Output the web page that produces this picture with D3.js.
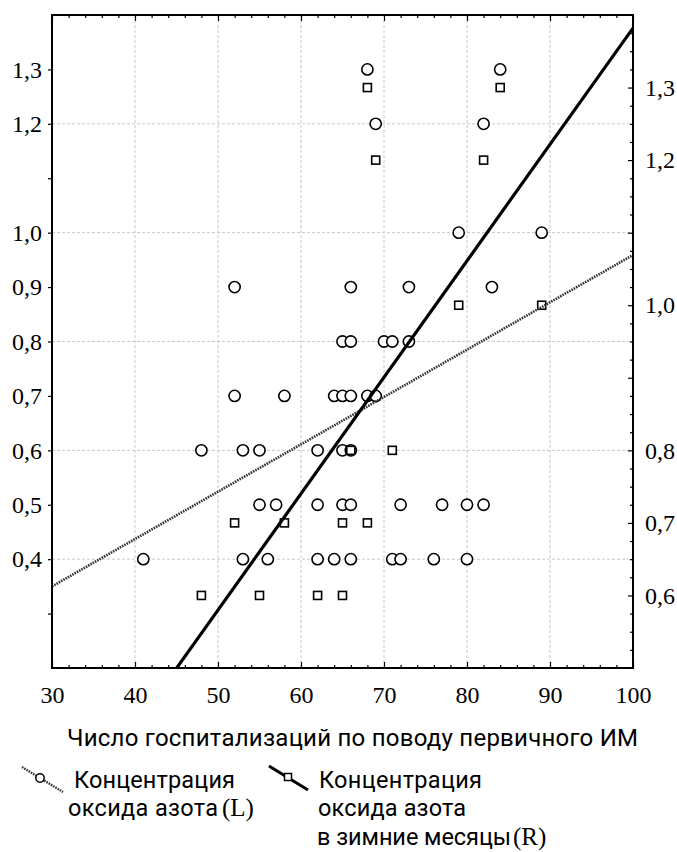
<!DOCTYPE html>
<html><head><meta charset="utf-8">
<script src="https://cdn.jsdelivr.net/npm/d3@7"></script>
<style>html,body{margin:0;padding:0;background:#fff}svg{display:block}</style>
</head><body>
<svg id="c" width="677" height="852"></svg>
<script>
// ---- data ----
// Left series (circles): Концентрация оксида азота (L)
const circleX = [41,53,56,62,64,66,71,72,76,80, 55,57,62,65,66,72,77,80,82, 48,53,55,62,65,66, 52,58,64,65,66,68,69, 65,66,70,71,73, 52,66,73,83, 79,89, 69,82, 68,84];
const circleY = [0.4,0.4,0.4,0.4,0.4,0.4,0.4,0.4,0.4,0.4, 0.5,0.5,0.5,0.5,0.5,0.5,0.5,0.5,0.5, 0.6,0.6,0.6,0.6,0.6,0.6, 0.7,0.7,0.7,0.7,0.7,0.7,0.7, 0.8,0.8,0.8,0.8,0.8, 0.9,0.9,0.9,0.9, 1.0,1.0, 1.2,1.2, 1.3,1.3];
// Right series (squares): в зимние месяцы (R)
const squareX = [48,55,62,65, 52,58,65,68, 66,71, 79,89, 69,82, 68,84];
const squareY = [0.6,0.6,0.6,0.6, 0.7,0.7,0.7,0.7, 0.8,0.8, 1.0,1.0, 1.2,1.2, 1.3,1.3];
// fitted lines (values at x = 30 and x = 100)
const fitX = [30, 100];
const fitL = [0.35, 0.959];
const fitR = [0.259, 1.382];
// axes
const xTicks = [30,40,50,60,70,80,90,100];
const xGrid = [40,50,60,70,80,90];
const leftTicks = [0.3,0.4,0.5,0.6,0.7,0.8,0.9,1.0,1.1,1.2,1.3];
const leftLabels = [0.4,0.5,0.6,0.7,0.8,0.9,1.0,1.2,1.3];
const leftGrid = [0.4,0.6,0.8,1.0,1.2];
const rightTicks = [0.6,0.7,0.8,0.9,1.0,1.1,1.2,1.3];
const rightLabels = [0.6,0.7,0.8,1.0,1.2,1.3];
const xTitle = "Число госпитализаций по поводу первичного ИМ";
const legendL = ["Концентрация", "оксида азота", "(L)"];
const legendR = ["Концентрация", "оксида азота", "в зимние месяцы", "(R)"];

// ---- layout ----
const L = 52, R = 633, T = 15, B = 668;
const svg = d3.select("#c");
const x = d3.scaleLinear().domain([30,100]).range([L,R]);
const yL = d3.scaleLinear().domain([0.2,1.4]).range([B,T]);
const yR = d3.scaleLinear().domain([0.5,1.4]).range([B,T]);
const fmt = v => d3.format(".1f")(v).replace(".", ",");
const serif = "'Liberation Serif','Times New Roman',serif";
const sans = "Roboto,'Open Sans',sans-serif";
const near = (arr, v) => arr.some(a => Math.abs(a - v) < 1e-9);

// grid
const g = svg.append("g");
g.selectAll("line.vg").data(xGrid).join("line")
  .attr("x1", d => x(d)).attr("x2", d => x(d)).attr("y1", T).attr("y2", B)
  .attr("stroke", "#c8c8c8").attr("stroke-dasharray", "3,2");
g.selectAll("line.hg").data(leftGrid).join("line")
  .attr("y1", d => yL(d)).attr("y2", d => yL(d)).attr("x1", L).attr("x2", R)
  .attr("stroke", "#c8c8c8").attr("stroke-dasharray", "3,2");

// clip
svg.append("clipPath").attr("id","clip").append("rect")
  .attr("x", L).attr("y", T).attr("width", R-L).attr("height", B-T);

// markers
svg.append("g").selectAll("circle").data(circleX.map((v,i)=>[v,circleY[i]])).join("circle")
  .attr("cx", d => x(d[0])).attr("cy", d => yL(d[1])).attr("r", 5.6)
  .attr("fill", "#fff").attr("stroke", "#000").attr("stroke-width", 1.6);
svg.append("g").selectAll("rect").data(squareX.map((v,i)=>[v,squareY[i]])).join("rect")
  .attr("x", d => x(d[0]) - 4).attr("y", d => yR(d[1]) - 4).attr("width", 8).attr("height", 8)
  .attr("fill", "#fff").attr("stroke", "#000").attr("stroke-width", 1.6);

// fit lines
const lines = svg.append("g").attr("clip-path", "url(#clip)");
lines.append("path").datum(fitX.map((v,i)=>[v,fitL[i]]))
  .attr("d", d3.line().x(d=>x(d[0])).y(d=>yL(d[1])))
  .attr("fill","none").attr("stroke","#333").attr("stroke-width",2.6).attr("stroke-dasharray","1.6,1");
lines.append("path").datum(fitX.map((v,i)=>[v,fitR[i]]))
  .attr("d", d3.line().x(d=>x(d[0])).y(d=>yR(d[1])))
  .attr("fill","none").attr("stroke","#000").attr("stroke-width",3.2);

// axes
function styleAxis(sel, size) {
  sel.select(".domain").remove();
  sel.selectAll("line").attr("stroke", "#000").attr("stroke-width", 1.2);
  sel.selectAll("text").attr("font-family", serif).attr("font-size", size).attr("fill", "#000");
}
const minorX = d3.range(32,100,2).filter(v => v % 10);
const ax = svg.append("g").attr("transform", `translate(0,${B})`)
  .call(d3.axisBottom(x).tickValues(xTicks).tickFormat(d3.format("d")).tickSizeInner(-6).tickSizeOuter(0).tickPadding(18));
styleAxis(ax, 24);
const axm = svg.append("g").attr("transform", `translate(0,${B})`)
  .call(d3.axisBottom(x).tickValues(minorX).tickFormat("").tickSizeInner(-3).tickSizeOuter(0));
styleAxis(axm, 0);
const at = svg.append("g").attr("transform", `translate(0,${T})`)
  .call(d3.axisTop(x).tickValues(xTicks).tickFormat("").tickSizeInner(-6).tickSizeOuter(0));
styleAxis(at, 0);
const atm = svg.append("g").attr("transform", `translate(0,${T})`)
  .call(d3.axisTop(x).tickValues(minorX).tickFormat("").tickSizeInner(-3).tickSizeOuter(0));
styleAxis(atm, 0);

const al = svg.append("g").attr("transform", `translate(${L},0)`)
  .call(d3.axisLeft(yL).tickValues(leftTicks).tickFormat(v => near(leftLabels, v) ? fmt(v) : "").tickSizeInner(4).tickSizeOuter(0).tickPadding(6));
styleAxis(al, 24);

const ar = svg.append("g").attr("transform", `translate(${R},0)`)
  .call(d3.axisRight(yR).tickValues(rightTicks).tickFormat(v => near(rightLabels, v) ? fmt(v) : "").tickSizeInner(-5).tickSizeOuter(0).tickPadding(12));
styleAxis(ar, 24);
const arm = svg.append("g").attr("transform", `translate(${R},0)`)
  .call(d3.axisRight(yR).tickValues(d3.range(0.525,1.4,0.025).filter(v => Math.abs(v*10 - Math.round(v*10)) > 1e-6)).tickFormat("").tickSizeInner(-3).tickSizeOuter(0));
styleAxis(arm, 0);

// frame
svg.append("rect").attr("x", L).attr("y", T).attr("width", R-L).attr("height", B-T)
  .attr("fill","none").attr("stroke","#000").attr("stroke-width",2);

// x title
svg.append("text").attr("x", 67).attr("y", 746)
  .attr("font-family", sans).attr("font-size", 24)
  .attr("textLength", 571).attr("lengthAdjust", "spacing").text(xTitle);

// legend
const lg = svg.append("g").attr("font-family", sans).attr("font-size", 23.5);
lg.append("line").attr("x1",22).attr("y1",767).attr("x2",63).attr("y2",792)
  .attr("stroke","#333").attr("stroke-width",2.4).attr("stroke-dasharray","1.6,1");
lg.append("circle").attr("cx",40).attr("cy",778).attr("r",4.2).attr("fill","#fff").attr("stroke","#000").attr("stroke-width",1.5);
lg.append("text").attr("x",74).attr("y",788).attr("textLength",161).attr("lengthAdjust","spacing").text(legendL[0]);
lg.append("text").attr("x",68).attr("y",816).attr("textLength",150).attr("lengthAdjust","spacing").text(legendL[1]);
lg.append("text").attr("x",222).attr("y",816).attr("font-family", serif).attr("font-size", 25).text(legendL[2]);

lg.append("line").attr("x1",269).attr("y1",766).attr("x2",308).attr("y2",790)
  .attr("stroke","#000").attr("stroke-width",3);
lg.append("rect").attr("x",284.5).attr("y",773.5).attr("width",7).attr("height",7).attr("fill","#fff").attr("stroke","#000").attr("stroke-width",1.5);
lg.append("text").attr("x",319).attr("y",788).attr("textLength",163).attr("lengthAdjust","spacing").text(legendR[0]);
lg.append("text").attr("x",318).attr("y",816).attr("textLength",148).attr("lengthAdjust","spacing").text(legendR[1]);
lg.append("text").attr("x",317).attr("y",845).attr("textLength",194).attr("lengthAdjust","spacing").text(legendR[2]);
lg.append("text").attr("x",513).attr("y",845).attr("font-family", serif).attr("font-size", 25).text(legendR[3]);
</script>
</body></html>
